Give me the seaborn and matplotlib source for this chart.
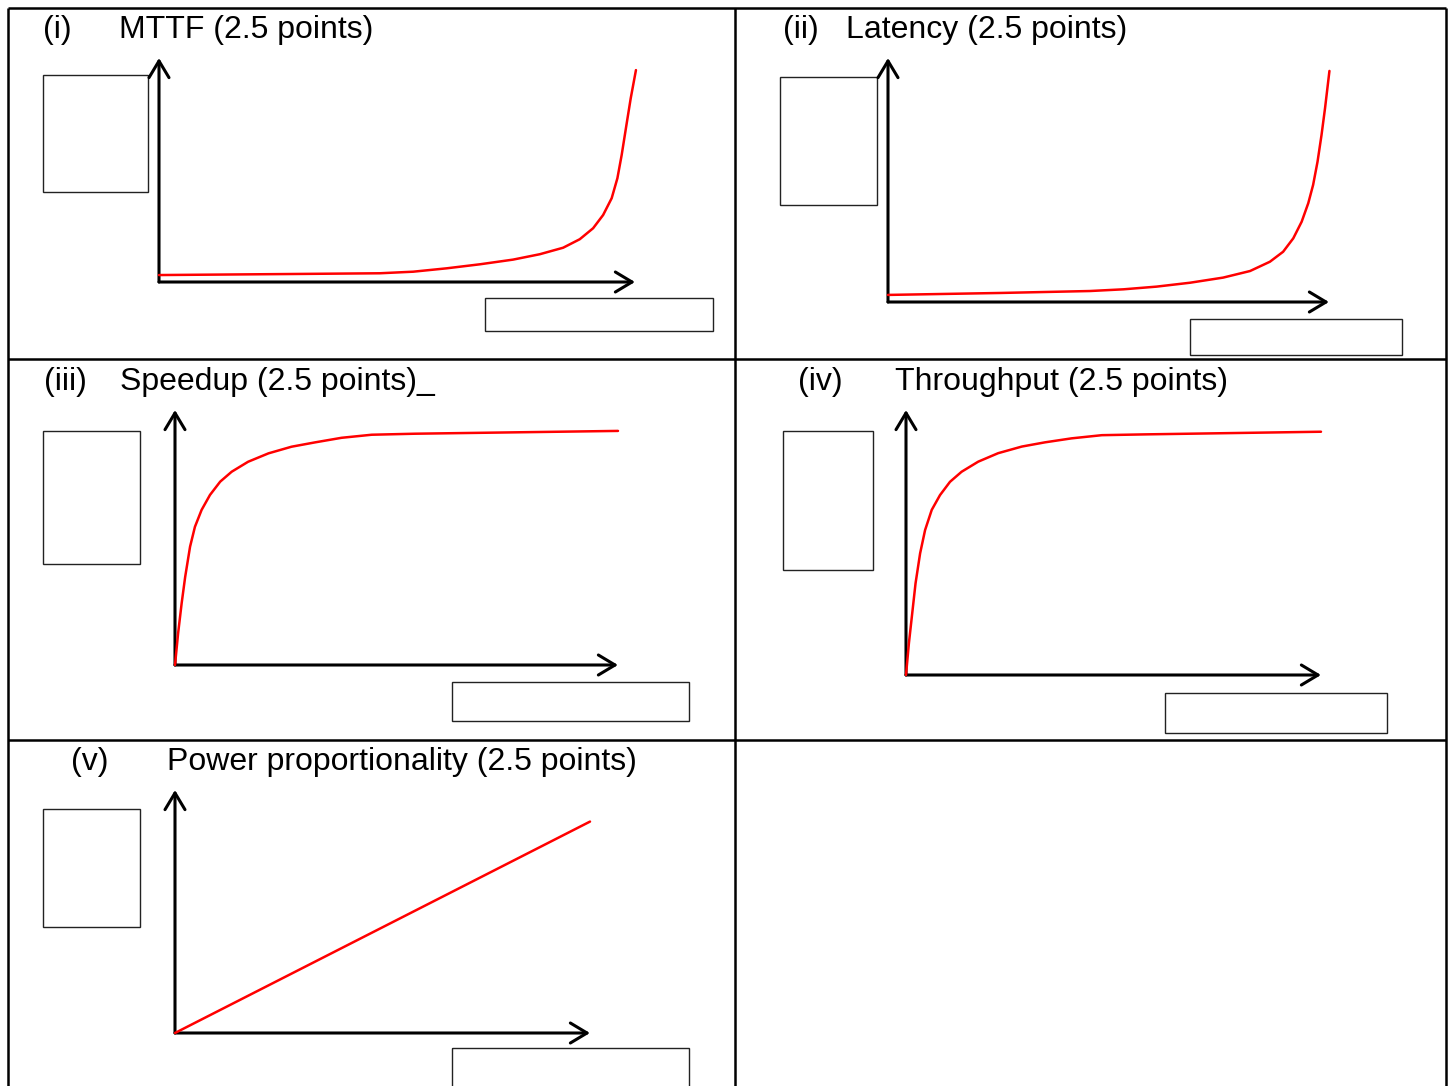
import numpy as np
import matplotlib
matplotlib.use('Agg')
import matplotlib.pyplot as plt
from matplotlib.patches import Rectangle
import seaborn as sns

sns.set_theme(style='white')
plt.rcParams['font.family'] = ['Liberation Sans', 'DejaVu Sans']

W, H = 1450, 1086

# curve values (both axes scaled 0-100)
mttf_x = [0, 29.6, 46.4, 53.4, 60.4, 67.4, 74.4, 80.0, 84.9, 88.4, 91.2, 93.3, 95.1, 96.3, 97.2, 98.2, 99.1, 100.2]
mttf_y = [3.1, 3.6, 3.9, 4.6, 6.1, 7.9, 10.0, 12.4, 15.3, 19.1, 24.0, 29.9, 37.4, 46.3, 56.7, 70.1, 82.0, 94.6]

latency_x = [0, 25.4, 45.8, 53.4, 60.9, 68.5, 76.0, 82.1, 86.6, 89.6, 91.9, 93.8, 95.3, 96.4, 97.4, 98.3, 99.1, 100.1]
latency_y = [2.9, 3.7, 4.5, 5.2, 6.3, 7.9, 10.0, 12.7, 16.5, 20.6, 26.1, 32.9, 40.5, 48.0, 57.5, 68.4, 79.4, 94.7]

speedup_x = [0, 0.7, 1.5, 2.3, 3.4, 4.5, 6.0, 7.9, 10.2, 12.8, 16.5, 21.1, 26.3, 31.6, 37.6, 44.4, 54.2, 100]
speedup_y = [0, 12.4, 24.2, 34.6, 46.4, 54.2, 60.8, 66.7, 71.9, 75.8, 79.7, 83.0, 85.6, 87.3, 89.1, 90.3, 90.7, 91.8]

throughput_x = [0, 0.7, 1.5, 2.3, 3.4, 4.6, 6.2, 8.2, 10.6, 13.4, 17.4, 22.2, 27.9, 33.5, 39.9, 47.2, 57.6, 100]
throughput_y = [0, 12.0, 23.3, 34.6, 45.9, 54.7, 62.3, 67.9, 72.9, 76.7, 80.5, 83.7, 86.2, 87.8, 89.3, 90.5, 90.8, 91.8]

power_x = [0, 100]
power_y = [0, 87]

labels = ['(i)', '(ii)', '(iii)', '(iv)', '(v)']
titles = ['MTTF (2.5 points)', 'Latency (2.5 points)', 'Speedup (2.5 points)_',
          'Throughput (2.5 points)', 'Power proportionality (2.5 points)']

# layout of each cell in pixels
panels = [
    dict(x=mttf_x, y=mttf_y, axis=(159, 282, 635, 58), lab=(43, 119, 38),
         ybox=(43, 75, 148, 192), xbox=(485, 298, 713, 331)),
    dict(x=latency_x, y=latency_y, axis=(888, 302, 1329, 58), lab=(783, 846, 38),
         ybox=(780, 77, 877, 205), xbox=(1190, 319, 1402, 355)),
    dict(x=speedup_x, y=speedup_y, axis=(175, 665, 618, 410), lab=(44, 120, 390),
         ybox=(43, 431, 140, 564), xbox=(452, 682, 689, 721)),
    dict(x=throughput_x, y=throughput_y, axis=(906, 675, 1321, 410), lab=(798, 895, 390),
         ybox=(783, 431, 873, 570), xbox=(1165, 693, 1387, 733)),
    dict(x=power_x, y=power_y, axis=(175, 1033, 590, 790), lab=(71, 167, 770),
         ybox=(43, 809, 140, 927), xbox=(452, 1048, 689, 1095)),
]

fig = plt.figure(figsize=(W / 100, H / 100), dpi=100)
bg = fig.add_axes([0, 0, 1, 1])
bg.set_xlim(0, W)
bg.set_ylim(H, 0)
bg.axis('off')

# table grid
for xv in [8, 735, 1446]:
    bg.plot([xv, xv], [8, H], color='black', lw=1.8, solid_capstyle='butt')
for yv in [8, 359, 740]:
    bg.plot([8, 1446], [yv, yv], color='black', lw=1.8, solid_capstyle='butt')

for p, lab, title in zip(panels, labels, titles):
    lx, tx, base = p['lab']
    bg.text(lx, base, lab, fontsize=23, va='baseline', ha='left', color='black')
    bg.text(tx, base, title, fontsize=23, va='baseline', ha='left', color='black')

    for bx0, by0, bx1, by1 in [p['ybox'], p['xbox']]:
        bg.add_patch(Rectangle((bx0, by0), bx1 - bx0, by1 - by0, fill=False,
                               edgecolor='#222222', lw=1.0))

    x0, yb, x1, yt = p['axis']
    ax = fig.add_axes([x0 / W, 1 - yb / H, (x1 - x0) / W, (yb - yt) / H])
    ax.set_xlim(0, 100)
    ax.set_ylim(0, 100)
    ax.axis('off')
    arrow = dict(arrowstyle='->,head_length=0.6,head_width=0.36', lw=2.2,
                 color='black', mutation_scale=20, shrinkA=0, shrinkB=0)
    ax.annotate('', xy=(1, 0), xytext=(0, 0), xycoords='axes fraction', arrowprops=arrow)
    ax.annotate('', xy=(0, 1), xytext=(0, 0), xycoords='axes fraction', arrowprops=arrow)
    sns.lineplot(x=p['x'], y=p['y'], ax=ax, color='red', lw=1.8,
                 estimator=None, sort=False, clip_on=False, zorder=5)

fig.savefig('out.png', dpi=100)
